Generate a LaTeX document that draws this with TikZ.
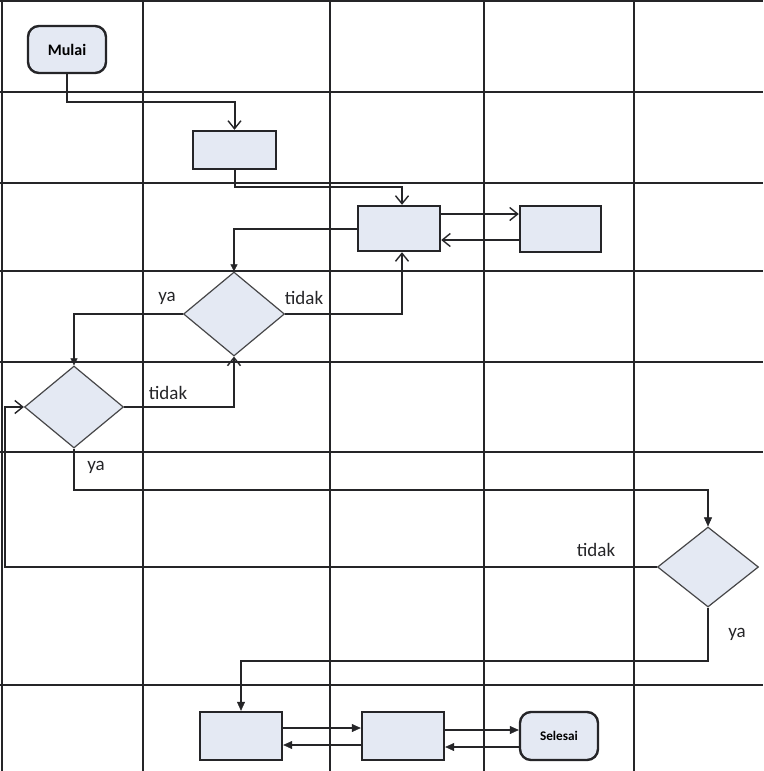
\documentclass[tikz,border=0pt]{standalone}
\usepackage{fontspec}
\setmainfont{Carlito}
\usetikzlibrary{shapes.geometric,arrows.meta,calc}
\definecolor{boxfill}{HTML}{E4E9F3}
\definecolor{ink}{HTML}{252528}
\begin{document}
\begin{tikzpicture}[x=1pt,y=-1pt,
  gridline/.style={draw=ink,line width=1.6pt},
  procbox/.style={draw=ink,line width=2.4pt,fill=boxfill,rectangle,inner sep=0pt},
  termbox/.style={procbox,rounded corners=11pt,font=\bfseries},
  decbox/.style={draw=ink!85,line width=1.2pt,fill=boxfill,diamond,inner sep=0pt},
  conn/.style={draw=ink,line width=2pt},
  openarr/.style={conn,-{Straight Barb[length=8pt,width=13pt,line width=1.4pt]}},
  fillarr/.style={conn,-{Stealth[length=9pt,width=8pt,inset=0pt,line width=0.5pt]}},
  smallarr/.style={conn,-{Stealth[length=7pt,width=7pt,inset=0pt,line width=0.5pt]}},
  lbl/.style={font=\fontsize{19}{22}\selectfont,text=ink,inner sep=0pt}]
\useasboundingbox (0,0) rectangle (763,771);
\fill[white] (0,0) rectangle (763,771);
% grid
\foreach \gx in {2,143,330,484,634} \draw[gridline] (\gx,0) -- (\gx,771);
\foreach \gy in {1,92,183,271,362,452,685} \draw[gridline] (0,\gy) -- (763,\gy);
% nodes
\node[termbox,minimum width=78pt,minimum height=47pt,font=\bfseries\fontsize{16}{18}\selectfont] (mulai) at (67,49.5) {Mulai};
\node[procbox,minimum width=83pt,minimum height=38pt] (box1) at (234.5,150) {};
\node[procbox,minimum width=82pt,minimum height=45pt] (box2) at (399,228.5) {};
\node[procbox,minimum width=81pt,minimum height=46pt] (box3) at (560.5,229) {};
\node[decbox,minimum width=101pt,minimum height=84pt] (d1) at (234,314) {};
\node[decbox,minimum width=99pt,minimum height=82pt] (d2) at (74,407) {};
\node[decbox,minimum width=101pt,minimum height=80pt] (d3) at (708,567) {};
\node[procbox,minimum width=82pt,minimum height=48pt] (box4) at (241,736) {};
\node[procbox,minimum width=82pt,minimum height=48pt] (box5) at (403,736) {};
\node[termbox,minimum width=78pt,minimum height=48pt,font=\bfseries\fontsize{13.2}{16}\selectfont] (selesai) at (559,736) {Selesai};
\coordinate (lx) at (5,0);
% labels
\node[lbl] (l1) at (167,298) {ya};
\node[lbl] (l2) at (304,298) {tidak};
\node[lbl] (l3) at (168,393) {tidak};
\node[lbl] (l4) at (96,467) {ya};
\node[lbl] (l5) at (596,550) {tidak};
\node[lbl] (l6) at (737,634) {ya};
% connectors
\draw[openarr] (mulai.south) -- ++(0,28) -| (box1.north);
\draw[openarr] (box1.south) -- ++(0,17) -| ($(box2.north)+(3,0)$);
\draw[openarr] ($(box2.east)+(0,-14.5)$) -- ($(box3.west)+(0,-15)$);
\draw[openarr] ($(box3.west)+(0,11)$) -- ($(box2.east)+(0,11.5)$);
\draw[smallarr] ($(box2.west)+(0,0.5)$) -| (d1.north);
\draw[openarr] (d1.east) -| ($(box2.south)+(3,0)$);
\draw[smallarr] (d1.west) -| (d2.north);
\draw[openarr] (d2.east) -| (d1.south);
\draw[fillarr] (d2.south) -- ++(0,41) -| (d3.north);
\draw[openarr] (d3.west) -- (d3.west -| lx) |- (d2.west);
\draw[fillarr] (d3.south) -- ++(0,53) -| (box4.north);
\draw[fillarr] ($(box4.east)+(0,-8)$) -- ($(box5.west)+(0,-8)$);
\draw[fillarr] ($(box5.west)+(0,9)$) -- ($(box4.east)+(0,9)$);
\draw[fillarr] ($(box5.east)+(0,-6)$) -- ($(selesai.west)+(0,-6)$);
\draw[fillarr] ($(selesai.west)+(0,11)$) -- ($(box5.east)+(0,11)$);
\end{tikzpicture}
\end{document}
